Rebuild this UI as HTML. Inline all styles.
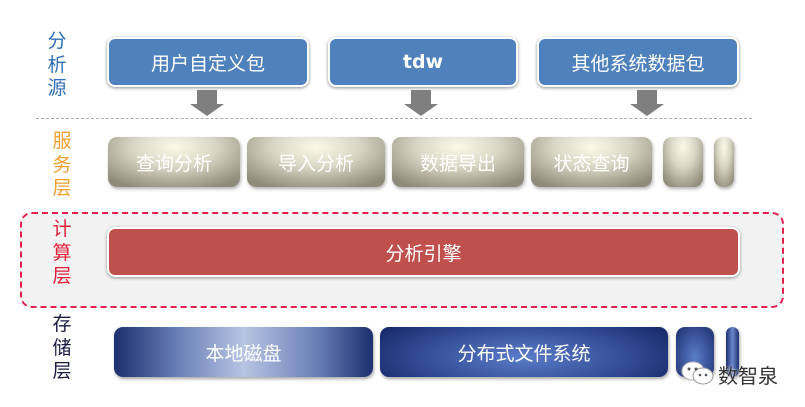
<!DOCTYPE html>
<html><head><meta charset="utf-8"><style>
body{margin:0;width:805px;height:407px;background:#fff;position:relative;overflow:hidden;font-family:"Liberation Sans","Noto Sans CJK SC",sans-serif}
.a{position:absolute}
.lbl{position:absolute;width:20px;font-size:19px;line-height:23.5px;text-align:center}
.top{position:absolute;top:37px;height:46px;background:#4f81bd;border:2px solid #fff;border-radius:8px;box-shadow:0 1px 3px rgba(0,0,0,.45);color:#fff;font-size:19px;display:flex;align-items:center;justify-content:center}
.svc{position:absolute;top:137px;height:50px;border-radius:9px;background:radial-gradient(ellipse 70% 90% at 50% 20%,#fbfae9 0%,#d8d6c4 45%,#8e8c78 100%);box-shadow:1px 2px 3px rgba(0,0,0,.3);color:#fff;font-size:19px;display:flex;align-items:center;justify-content:center}
.sto{position:absolute;top:327px;height:50px;border-radius:9px;box-shadow:1px 2px 3px rgba(0,0,0,.35);color:#fff;font-size:19px;display:flex;align-items:center;justify-content:center}
.arr{position:absolute;top:90px;width:34px;height:26px}
</style></head><body>
<div class="lbl" style="left:47px;top:30px;color:#2f6db5">分<br>析<br>源</div>
<div class="lbl" style="left:52px;top:130px;color:#f0a030">服<br>务<br>层</div>
<div class="a" style="left:20px;top:212px;width:760px;height:92px;background:#f2f2f2;border:2px dashed #e0204f;border-radius:12px"></div>
<div class="lbl" style="left:52px;top:218px;color:#e0203a">计<br>算<br>层</div>
<div class="lbl" style="left:52px;top:313px;color:#1a1a40">存<br>储<br>层</div>

<div class="top" style="left:107px;width:198px">用户自定义包</div>
<div class="top" style="left:328px;width:186px;font-weight:bold;font-family:'DejaVu Sans',sans-serif">tdw</div>
<div class="top" style="left:537px;width:198px">其他系统数据包</div>

<svg class="arr" style="left:190px" viewBox="0 0 34 26"><path d="M7 0H27V14H34L17 26L0 14H7Z" fill="#7f7f7f"/></svg>
<svg class="arr" style="left:404px" viewBox="0 0 34 26"><path d="M7 0H27V14H34L17 26L0 14H7Z" fill="#7f7f7f"/></svg>
<svg class="arr" style="left:630px" viewBox="0 0 34 26"><path d="M7 0H27V14H34L17 26L0 14H7Z" fill="#7f7f7f"/></svg>

<div class="a" style="left:36px;top:118px;width:716px;border-top:1px dashed #aaa"></div>

<div class="svc" style="left:108px;width:132px">查询分析</div>
<div class="svc" style="left:247px;width:138px">导入分析</div>
<div class="svc" style="left:392px;width:132px">数据导出</div>
<div class="svc" style="left:531px;width:121px">状态查询</div>
<div class="svc" style="left:663px;width:40px"></div>
<div class="svc" style="left:714px;width:20px"></div>

<div class="a" style="left:107px;top:227px;width:629px;height:46px;background:#c0504d;border:2px solid #fff;border-radius:8px;box-shadow:0 1px 3px rgba(0,0,0,.4);color:#fff;font-size:19px;display:flex;align-items:center;justify-content:center">分析引擎</div>

<div class="sto" style="left:114px;width:259px;background:linear-gradient(90deg,#1c2f6e 0%,#6a80b8 25%,#b7c4e2 50%,#6a80b8 78%,#1c2f6e 100%)">本地磁盘</div>
<div class="sto" style="left:380px;width:288px;background:radial-gradient(ellipse 60% 100% at 50% 60%,#5a7cc8 0%,#3a559e 50%,#16286a 100%)">分布式文件系统</div>
<div class="sto" style="left:676px;width:38px;background:radial-gradient(ellipse at 50% 60%,#5a7cc8,#1c2f6e)"></div>
<div class="sto" style="left:726px;width:13px;background:linear-gradient(90deg,#1c2f6e,#6a86cc,#1c2f6e)"></div>

<svg class="a" style="left:680px;top:360px" width="36" height="26" viewBox="0 0 36 26"><ellipse cx="13" cy="11" rx="11" ry="9" fill="#fff" stroke="#bbb"/><ellipse cx="23" cy="16" rx="10" ry="8" fill="#fff" stroke="#999"/><circle cx="9" cy="9" r="1.5" fill="#555"/><circle cx="16" cy="9" r="1.5" fill="#555"/><circle cx="20" cy="15" r="1.3" fill="#555"/><circle cx="26" cy="15" r="1.3" fill="#555"/></svg>
<div class="a" style="left:718px;top:360px;font-size:20px;color:#333;text-shadow:0 0 2px #fff">数智泉</div>
</body></html>
